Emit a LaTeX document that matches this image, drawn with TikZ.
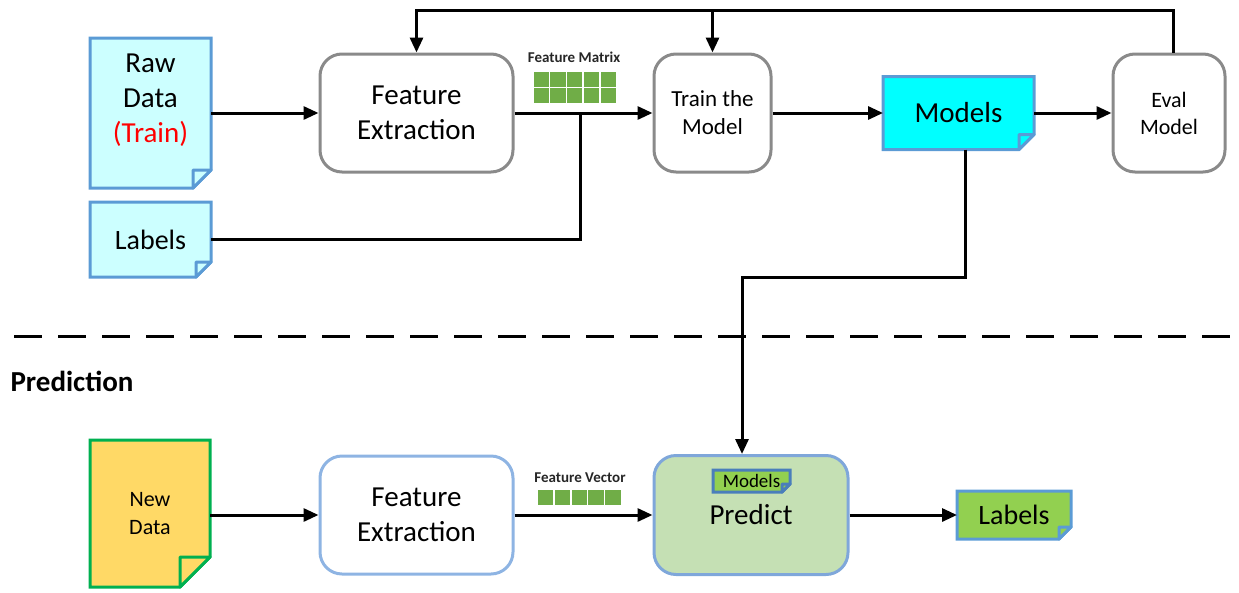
\documentclass[tikz,border=0pt]{standalone}
\usepackage{fontspec}
\setmainfont{Carlito}
\usetikzlibrary{arrows.meta,calc}
\pgfdeclarelayer{bg}
\pgfsetlayers{bg,main}
\definecolor{boxgray}{HTML}{8A8A8A}
\definecolor{docblue}{HTML}{5B9BD5}
\definecolor{rawfill}{HTML}{CCFFFF}
\definecolor{modcyan}{HTML}{00FFFF}
\definecolor{ndfill}{HTML}{FFD966}
\definecolor{ndgreen}{HTML}{00B050}
\definecolor{feblue}{HTML}{8EB4E3}
\definecolor{predfill}{HTML}{C5E0B4}
\definecolor{predblue}{HTML}{7FA7DA}
\definecolor{lgreen}{HTML}{92D050}
\definecolor{cellgreen}{HTML}{70AD47}
\definecolor{sblue}{HTML}{4A7EBB}
\newcommand\fs[2]{\fontsize{#1}{#2}\selectfont}
\newcommand\mydoc[5]{%
\begin{pgfonlayer}{bg}
\draw[line width=#5, draw=#4, fill=#3, line join=miter] (#1.north west) -- (#1.north east) -- ([yshift=#2pt]#1.south east) -- ([xshift=-#2pt]#1.south east) -- (#1.south west) -- cycle;
\draw[line width=#5, draw=#4, fill=#3, line join=round] ([xshift=-#2pt,yshift=#2pt]#1.south east) -- ([yshift=#2pt]#1.south east) -- ([xshift=-#2pt]#1.south east) -- cycle;
\end{pgfonlayer}}
\tikzset{
  doc/.style={rectangle, inner sep=0pt, outer sep=0pt, align=center},
  gbox/.style={rectangle, draw=boxgray, line width=3pt, rounded corners=22pt, fill=white, align=center, inner sep=0pt},
  bbox/.style={rectangle, draw=feblue, line width=3pt, rounded corners=22pt, fill=white, align=center, inner sep=0pt},
  pbox/.style={rectangle, draw=predblue, line width=3pt, rounded corners=22pt, fill=predfill, align=center, inner sep=0pt},
  conn/.style={line width=3pt},
  arr/.style={line width=3pt, -{Triangle[length=15pt,width=13pt]}},
  smalllab/.style={font=\bfseries\fs{15}{17}, text=black!85},
  dashline/.style={line width=3pt, dash pattern=on 28pt off 16pt}
}
\begin{document}
\begin{tikzpicture}[x=1pt,y=-1pt]
\useasboundingbox (0,0) rectangle (1239,592);

% ---------------- training ----------------
\node[doc, minimum width=121, minimum height=150] (raw) at (150.5,113) {};
\mydoc{raw}{18}{rawfill}{docblue}{3pt}
\node[doc, font=\fs{29}{35}] (rawt) at (150.5,100) {Raw\\Data\\\textcolor{red}{(Train)}};

\node[doc, minimum width=121, minimum height=75, font=\fs{28}{32}] (lab1) at (150.5,239.5) {Labels};
\mydoc{lab1}{15}{rawfill}{docblue}{3pt}

\node[gbox, minimum width=193, minimum height=118, font=\fs{29}{35}] (fe1) at (416.5,113) {Feature\\Extraction};
\node[gbox, minimum width=117, minimum height=118, font=\fs{23}{28}] (train) at (712.5,113) {Train the\\Model};
\node[doc, minimum width=151, minimum height=73, font=\fs{29}{32}] (models) at (958.5,113) {Models};
\mydoc{models}{15}{modcyan}{docblue}{3pt}
\node[gbox, minimum width=112, minimum height=118, font=\fs{22}{27}] (eval) at (1169,113) {Eval\\Model};

\node[smalllab] (fmlab) at (574,57) {Feature Matrix};
\foreach \i in {0,...,4}{\foreach \j in {0,1}{
  \fill[cellgreen] (533.5+\i*16.8, 72+\j*16.3) rectangle ++(15.3,14.8);}}

\draw[arr] (raw.east) -- (fe1.west);
\draw[arr] (fe1.east) -- (train.west);
\draw[arr] (train.east) -- (train.east -| models.west);
\draw[arr] (models.east) -- (models.east -| eval.west);

\coordinate (fmjoin) at (580,113);
\draw[conn] (lab1.east) -| (fmjoin);

\coordinate (fb) at (0,10);
\draw[arr] ([xshift=4pt]eval.north) |- (fe1.north |- fb) -- (fe1.north);
\draw[arr] (train.north |- fb) -- (train.north);

% ---------------- separator ----------------
\coordinate (dl) at (14,336);
\coordinate (dr) at (1235,336);
\draw[dashline] (dl) -- (dr);
\node[anchor=west, font=\bfseries\fs{29}{32}] (predlab) at (7,381) {Prediction};

% ---------------- prediction ----------------
\node[doc, minimum width=120, minimum height=147, font=\fs{22}{28}] (new) at (150,513.5) {New\\Data};
\mydoc{new}{30}{ndfill}{ndgreen}{3pt}

\node[bbox, minimum width=193, minimum height=118, font=\fs{29}{35}] (fe2) at (416.5,515) {Feature\\Extraction};

\node[smalllab] (fvlab) at (580,478) {Feature Vector};
\foreach \i in {0,...,4}{
  \fill[cellgreen] (538+\i*16.8, 490) rectangle ++(15.3,15);}

\begin{pgfonlayer}{bg}
\node[pbox, minimum width=194, minimum height=119, font=\fs{29}{32}] (predict) at (751,515) {Predict};
\end{pgfonlayer}
\node[doc, minimum width=77, minimum height=22, font=\fs{19}{21}] (smodels) at (751.5,481) {Models};
\mydoc{smodels}{8}{lgreen}{sblue}{3pt}

\node[doc, minimum width=114, minimum height=48, font=\fs{28}{31}] (lab2) at (1014,515) {Labels};
\mydoc{lab2}{12}{lgreen}{docblue}{3pt}

\draw[arr] (new.east |- fe2.west) -- (fe2.west);
\draw[arr] (fe2.east) -- (fe2.east -| predict.west);
\draw[arr] (predict.east) -- (predict.east -| lab2.west);

\coordinate (mdrop) at (965,277);
\draw[arr] (models.south -| mdrop) -- (mdrop) -| ([xshift=-9pt]predict.north);
\end{tikzpicture}
\end{document}
